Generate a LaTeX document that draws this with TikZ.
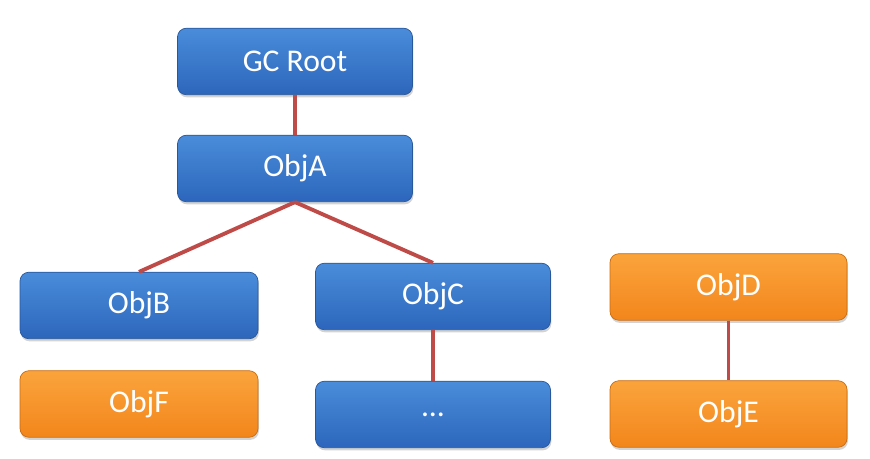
\documentclass[tikz,border=0pt]{standalone}
\usepackage{fontspec}
\setmainfont{Carlito}
\usepackage{tikz}
\usetikzlibrary{positioning,shadows}
\definecolor{AzulArriba}{HTML}{4A8CDA}
\definecolor{AzulAbajo}{HTML}{2C66BC}
\definecolor{AzulBorde}{HTML}{28579A}
\definecolor{NaranjaArriba}{HTML}{FBA43C}
\definecolor{NaranjaAbajo}{HTML}{F2861C}
\definecolor{NaranjaBorde}{HTML}{C96C12}
\definecolor{Enlace}{HTML}{BE4B48}

\begin{document}
\begin{tikzpicture}[
  every node/.style={font=\fontsize{18}{21}\selectfont,text=white},
  obj/.style={rounded corners=5pt,minimum width=4.7cm,minimum height=1.33cm,
    drop shadow={shadow xshift=0.5pt,shadow yshift=-1.5pt,opacity=0.35}},
  vivo/.style={obj,draw=AzulBorde,top color=AzulArriba,bottom color=AzulAbajo},
  muerto/.style={obj,draw=NaranjaBorde,top color=NaranjaArriba,bottom color=NaranjaAbajo},
  enlace/.style={draw=Enlace,line width=2.2pt}
]
  \useasboundingbox (0,0) rectangle (17.4,9.18);

  % Objetos alcanzables desde la raíz.
  \node[vivo] (root) at (5.9,7.95) {GC Root};
  \node[vivo] (objA) at (5.9,5.81) {ObjA};
  \node[vivo,minimum width=4.76cm] (objB) at (2.78,3.07) {ObjB};
  \node[vivo] (objC) at (8.66,3.25) {ObjC};
  \node[vivo] (resto) at (8.66,0.89) {...};

  % Objetos sin referencia desde la raíz.
  \node[muerto,minimum width=4.76cm] (objF) at (2.78,1.10) {ObjF};
  \node[muerto,minimum width=4.74cm] (objD) at (14.57,3.44) {ObjD};
  \node[muerto,minimum width=4.74cm] (objE) at (14.57,0.90) {ObjE};

  \draw[enlace] (root.south) -- (objA.north);
  \draw[enlace] (objA.south) -- (objB.north);
  \draw[enlace] (objA.south) -- (objC.north);
  \draw[enlace] (objC.south) -- (resto.north);
  \draw[enlace] (objD.south) -- (objE.north);
\end{tikzpicture}
\end{document}
